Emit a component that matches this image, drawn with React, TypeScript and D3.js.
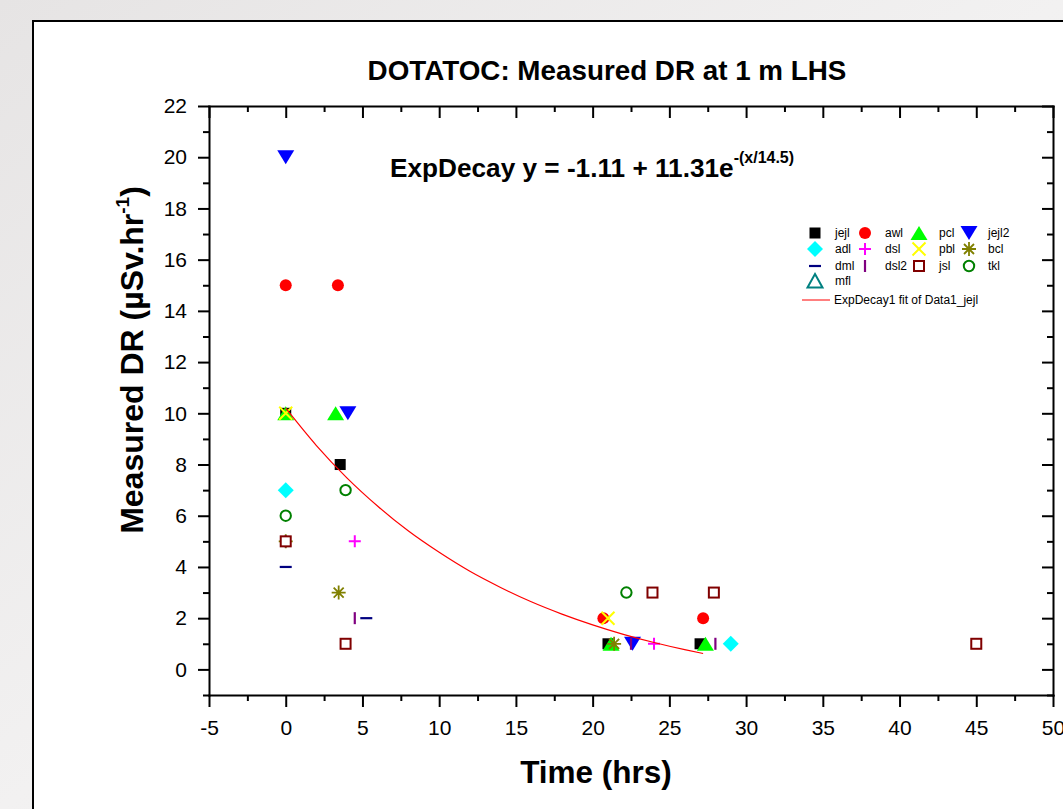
import React, { useEffect, useRef } from 'react';
import * as d3 from 'd3';

// series (Time hrs, Measured DR)
const jejl = [{ x: 0, y: 10 }, { x: 3.55, y: 8 }, { x: 21.0, y: 1 }, { x: 27.0, y: 1 }];
const awl = [{ x: 0, y: 15 }, { x: 3.4, y: 15 }, { x: 20.7, y: 2 }, { x: 27.2, y: 2 }];
const pcl = [{ x: 0, y: 10 }, { x: 3.25, y: 10 }, { x: 21.2, y: 1 }, { x: 27.35, y: 1 }];
const jejl2 = [{ x: 0, y: 20 }, { x: 4.05, y: 10 }, { x: 22.6, y: 1 }];
const adl = [{ x: 0, y: 7 }, { x: 29.0, y: 1 }];
const dsl = [{ x: 4.5, y: 5 }, { x: 24.0, y: 1 }];
const pbl = [{ x: 0, y: 10 }, { x: 21.0, y: 2 }];
const bcl = [{ x: 0, y: 5 }, { x: 3.45, y: 3 }, { x: 21.4, y: 1 }];
const dml = [{ x: 0, y: 4 }, { x: 5.25, y: 2 }];
const dsl2 = [{ x: 0, y: 5 }, { x: 4.5, y: 2 }, { x: 22.5, y: 1 }, { x: 28.0, y: 1 }];
const jsl = [{ x: 0, y: 5 }, { x: 3.9, y: 1 }, { x: 23.9, y: 3 }, { x: 27.9, y: 3 }, { x: 45, y: 1 }];
const tkl = [{ x: 0, y: 6 }, { x: 3.9, y: 7 }, { x: 22.2, y: 3 }];
const mfl: { x: number; y: number }[] = [];

const seriesNames = ['jejl', 'awl', 'pcl', 'jejl2', 'adl', 'dsl', 'pbl', 'bcl', 'dml', 'dsl2', 'jsl', 'tkl', 'mfl'];
const seriesData = [jejl, awl, pcl, jejl2, adl, dsl, pbl, bcl, dml, dsl2, jsl, tkl, mfl];
const seriesColors = ['#000000', '#ff0000', '#00ff00', '#0000ff', '#00ffff', '#ff00ff', '#ffff00', '#808000', '#000080', '#800080', '#800000', '#008000', '#008080'];
const seriesShapes = ['square', 'circle', 'triUp', 'triDown', 'diamond', 'plus', 'cross', 'asterisk', 'hdash', 'vdash', 'osquare', 'ocircle', 'otri'];

// exp decay fit curve
const fitX = [0, 2, 4, 6, 8, 10, 12, 14, 16, 18, 20, 22, 24, 26, 27.2];
const fitY = [10.2, 8.74, 7.47, 6.37, 5.40, 4.57, 3.83, 3.20, 2.64, 2.16, 1.74, 1.37, 1.05, 0.77, 0.62];

const xMajor = [-5, 0, 5, 10, 15, 20, 25, 30, 35, 40, 45, 50];
const xMinor = [-2.5, 2.5, 7.5, 12.5, 17.5, 22.5, 27.5, 32.5, 37.5, 42.5, 47.5];
const yMajor = [0, 2, 4, 6, 8, 10, 12, 14, 16, 18, 20, 22];
const yMinor = [-1, 1, 3, 5, 7, 9, 11, 13, 15, 17, 19, 21];

const FONT = "'Liberation Sans', Arial, Helvetica, sans-serif";

function drawMarker(g: any, shape: string, color: string) {
  switch (shape) {
    case 'square':
      g.append('rect').attr('x', -5.5).attr('y', -5.5).attr('width', 11).attr('height', 11).attr('fill', color);
      break;
    case 'circle':
      g.append('circle').attr('r', 6).attr('fill', color);
      break;
    case 'triUp':
      g.append('path').attr('d', 'M0,-7L8.5,7L-8.5,7Z').attr('fill', color);
      break;
    case 'triDown':
      g.append('path').attr('d', 'M-8.5,-7L8.5,-7L0,7Z').attr('fill', color);
      break;
    case 'diamond':
      g.append('path').attr('d', 'M0,-8L8,0L0,8L-8,0Z').attr('fill', color);
      break;
    case 'plus':
      g.append('path').attr('d', 'M-6,0H6M0,-6V6').attr('stroke', color).attr('stroke-width', 2).attr('fill', 'none');
      break;
    case 'cross':
      g.append('path').attr('d', 'M-6.5,-6.5L6.5,6.5M-6.5,6.5L6.5,-6.5').attr('stroke', color).attr('stroke-width', 2).attr('fill', 'none');
      break;
    case 'asterisk':
      g.append('path').attr('d', 'M-7,0H7M0,-7V7M-5,-5L5,5M-5,5L5,-5').attr('stroke', color).attr('stroke-width', 1.8).attr('fill', 'none');
      break;
    case 'hdash':
      g.append('path').attr('d', 'M-6,0H6').attr('stroke', color).attr('stroke-width', 2.2).attr('fill', 'none');
      break;
    case 'vdash':
      g.append('path').attr('d', 'M0,-6V6').attr('stroke', color).attr('stroke-width', 2.2).attr('fill', 'none');
      break;
    case 'osquare':
      g.append('rect').attr('x', -5).attr('y', -5).attr('width', 10).attr('height', 10)
        .attr('fill', '#fff').attr('stroke', color).attr('stroke-width', 2);
      break;
    case 'ocircle':
      g.append('circle').attr('r', 5.2).attr('fill', '#fff').attr('stroke', color).attr('stroke-width', 2);
      break;
    case 'otri':
      g.append('path').attr('d', 'M0,-7L7.5,6.5L-7.5,6.5Z').attr('fill', '#fff').attr('stroke', color).attr('stroke-width', 2);
      break;
  }
}

export default function App() {
  const svgRef = useRef<SVGSVGElement>(null);

  useEffect(() => {
    const width = 1063;
    const height = 809;
    const plot = { left: 209, right: 1053, top: 106, bottom: 695 };

    const svg = d3.select(svgRef.current);
    svg.selectAll('*').remove();
    svg.attr('width', width).attr('height', height);

    // textured backdrop outside the frame
    const defs = svg.append('defs');
    const grad = defs.append('linearGradient').attr('id', 'bg').attr('x1', 0).attr('y1', 0).attr('x2', 1).attr('y2', 1);
    grad.append('stop').attr('offset', '0%').attr('stop-color', '#e6e4e4');
    grad.append('stop').attr('offset', '50%').attr('stop-color', '#f2f1f1');
    grad.append('stop').attr('offset', '100%').attr('stop-color', '#e9e8e8');
    svg.append('rect').attr('width', width).attr('height', height).attr('fill', 'url(#bg)');

    svg.append('rect')
      .attr('x', 33).attr('y', 21)
      .attr('width', width).attr('height', height)
      .attr('fill', '#ffffff').attr('stroke', '#000').attr('stroke-width', 2);

    const xScale = d3.scaleLinear().domain([-5, 50]).range([plot.left, plot.right]);
    const yScale = d3.scaleLinear().domain([-1, 22]).range([plot.bottom, plot.top]);

    const styleAxis = (sel: any) => {
      sel.attr('font-family', FONT).attr('font-size', 21);
      sel.selectAll('path.domain').attr('stroke', '#000').attr('stroke-width', 2).attr('stroke-linecap', 'square');
      sel.selectAll('line').attr('stroke', '#000').attr('stroke-width', 2);
      sel.selectAll('text').attr('fill', '#000');
    };
    const plain = (d: any) => String(d);

    // left axis
    svg.append('g').attr('transform', `translate(${plot.left},0)`)
      .call(d3.axisLeft(yScale).tickValues(yMajor).tickSize(11).tickPadding(11).tickSizeOuter(0).tickFormat(plain))
      .call(styleAxis);
    svg.append('g').attr('transform', `translate(${plot.left},0)`)
      .call(d3.axisLeft(yScale).tickValues(yMinor).tickSize(6).tickFormat(() => ''))
      .call(styleAxis)
      .call((g: any) => g.select('.domain').remove());

    // right axis, ticks pointing inward
    svg.append('g').attr('transform', `translate(${plot.right},0)`)
      .call(d3.axisLeft(yScale).tickValues(yMajor).tickSize(11).tickSizeOuter(0).tickFormat(() => ''))
      .call(styleAxis);
    svg.append('g').attr('transform', `translate(${plot.right},0)`)
      .call(d3.axisLeft(yScale).tickValues(yMinor).tickSize(6).tickFormat(() => ''))
      .call(styleAxis)
      .call((g: any) => g.select('.domain').remove());

    // bottom axis
    svg.append('g').attr('transform', `translate(0,${plot.bottom})`)
      .call(d3.axisBottom(xScale).tickValues(xMajor).tickSize(12).tickPadding(13).tickSizeOuter(0).tickFormat(plain))
      .call(styleAxis);
    svg.append('g').attr('transform', `translate(0,${plot.bottom})`)
      .call(d3.axisBottom(xScale).tickValues(xMinor).tickSize(6).tickFormat(() => ''))
      .call(styleAxis)
      .call((g: any) => g.select('.domain').remove());

    // top axis, ticks pointing inward
    svg.append('g').attr('transform', `translate(0,${plot.top})`)
      .call(d3.axisBottom(xScale).tickValues(xMajor).tickSize(12).tickSizeOuter(0).tickFormat(() => ''))
      .call(styleAxis);
    svg.append('g').attr('transform', `translate(0,${plot.top})`)
      .call(d3.axisBottom(xScale).tickValues(xMinor).tickSize(6).tickFormat(() => ''))
      .call(styleAxis)
      .call((g: any) => g.select('.domain').remove());

    // data points
    seriesData.forEach((pts, i) => {
      pts.forEach(p => {
        const m = svg.append('g').attr('transform', `translate(${xScale(p.x)},${yScale(p.y)})`);
        drawMarker(m, seriesShapes[i], seriesColors[i]);
      });
    });

    // fit curve
    const fitPts = fitX.map((x, i) => [x, fitY[i]] as [number, number]);
    const line = d3.line<[number, number]>()
      .x(d => xScale(d[0]))
      .y(d => yScale(d[1]))
      .curve(d3.curveMonotoneX);
    svg.append('path')
      .datum(fitPts)
      .attr('fill', 'none')
      .attr('stroke', '#ff0000')
      .attr('stroke-width', 1.2)
      .attr('d', line);

    // title
    svg.append('text')
      .attr('x', 607).attr('y', 80)
      .attr('text-anchor', 'middle')
      .attr('font-family', FONT).attr('font-size', 27.8).attr('font-weight', 'bold')
      .text('DOTATOC: Measured DR at 1 m LHS');

    // equation
    const eq = svg.append('text')
      .attr('x', 390).attr('y', 177)
      .attr('font-family', FONT).attr('font-size', 26.2).attr('font-weight', 'bold');
    eq.append('tspan').text('ExpDecay y = -1.11 + 11.31e');
    eq.append('tspan').attr('dy', -14).attr('font-size', 16).text('-(x/14.5)');

    // axis titles
    svg.append('text')
      .attr('x', 596).attr('y', 783)
      .attr('text-anchor', 'middle')
      .attr('font-family', FONT).attr('font-size', 31.5).attr('font-weight', 'bold')
      .text('Time (hrs)');

    const yl = svg.append('text')
      .attr('transform', 'translate(143,360) rotate(-90)')
      .attr('text-anchor', 'middle')
      .attr('font-family', FONT).attr('font-size', 32).attr('font-weight', 'bold');
    yl.append('tspan').text('Measured DR (µSv.hr');
    yl.append('tspan').attr('dy', -14).attr('font-size', 19).text('-1');
    yl.append('tspan').attr('dy', 14).text(')');

    // legend
    const symX = [815, 865, 919, 969];
    const txtX = [835, 885, 939, 988];
    const rowY = [233, 249, 266, 281];
    const legend = svg.append('g').attr('font-family', FONT).attr('font-size', 12);
    seriesNames.forEach((name, i) => {
      const col = i % 4;
      const row = Math.floor(i / 4);
      const m = legend.append('g').attr('transform', `translate(${symX[col]},${rowY[row]})`);
      drawMarker(m, seriesShapes[i], seriesColors[i]);
      legend.append('text').attr('x', txtX[col]).attr('y', rowY[row] + 4).text(name);
    });
    legend.append('line')
      .attr('x1', 802).attr('x2', 830).attr('y1', 300).attr('y2', 300)
      .attr('stroke', '#ff0000').attr('stroke-width', 1);
    legend.append('text').attr('x', 834).attr('y', 304).text('ExpDecay1 fit of Data1_jejl');
  }, []);

  return (
    <div style={{ position: 'fixed', left: 0, top: 0, width: 1063, height: 809, overflow: 'hidden' }}>
      <svg ref={svgRef} style={{ display: 'block' }}></svg>
    </div>
  );
}
